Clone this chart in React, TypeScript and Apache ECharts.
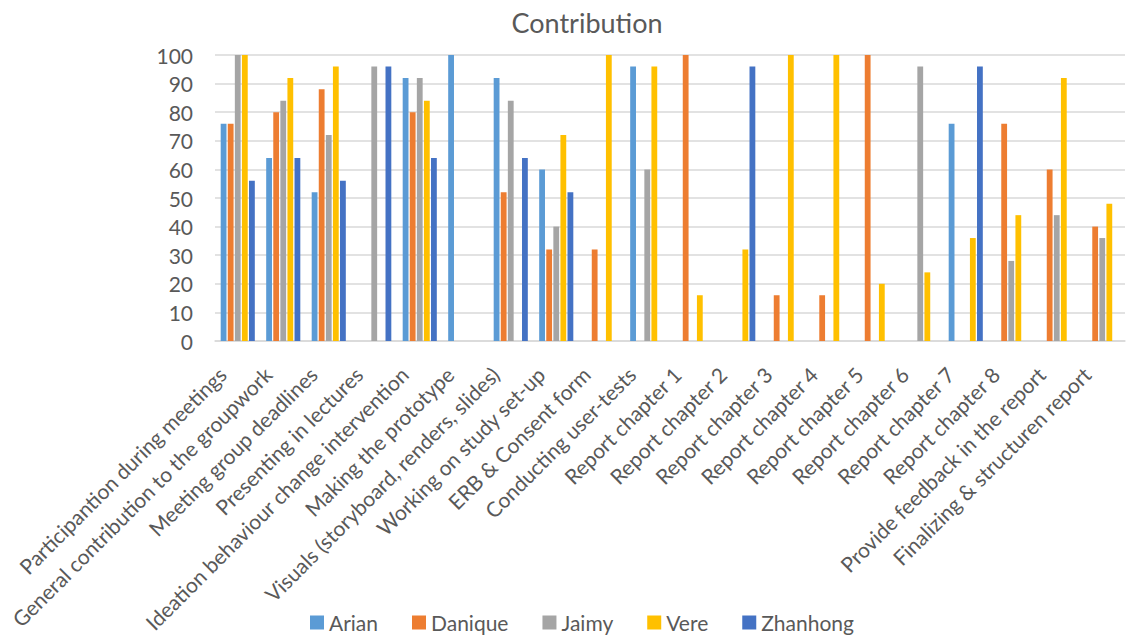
import React, { useEffect, useRef } from "react";
import * as echarts from "echarts";

const categories = [
  "Participantion during meetings",
  "General contribution to the groupwork",
  "Meeting group deadlines",
  "Presenting in lectures",
  "Ideation behaviour change intervention",
  "Making the prototype",
  "Visuals (storyboard, renders, slides)",
  "Working on study set-up",
  "ERB & Consent form",
  "Conducting user-tests",
  "Report chapter 1",
  "Report chapter 2",
  "Report chapter 3",
  "Report chapter 4",
  "Report chapter 5",
  "Report chapter 6",
  "Report chapter 7",
  "Report chapter 8",
  "Provide feedback in the report",
  "Finalizing & structuren report",
];

const arian = [76, 64, 52, null, 92, 100, 92, 60, null, 96, null, null, null, null, null, null, 76, null, null, null];
const danique = [76, 80, 88, null, 80, null, 52, 32, 32, null, 100, null, 16, 16, 100, null, null, 76, 60, 40];
const jaimy = [100, 84, 72, 96, 92, null, 84, 40, null, 60, null, null, null, null, null, 96, null, 28, 44, 36];
const vere = [100, 92, 96, null, 84, null, null, 72, 100, 96, 16, 32, 100, 100, 20, 24, 36, 44, 92, 48];
const zhanhong = [56, 64, 56, 96, 64, null, 64, 52, null, null, null, 96, null, null, null, null, 96, null, null, null];

const seriesNames = ["Arian", "Danique", "Jaimy", "Vere", "Zhanhong"];
const seriesData = [arian, danique, jaimy, vere, zhanhong];
const colors = ["#5B9BD5", "#ED7D31", "#A5A5A5", "#FFC000", "#4472C4"];

const FONT = "Lato, 'Open Sans', sans-serif";
const TEXT = "#595959";

export default function App() {
  const ref = useRef<HTMLDivElement>(null);
  useEffect(() => {
    if (!ref.current) return;
    const chart = echarts.init(ref.current, null, { renderer: "svg" });
    chart.setOption({
      animation: false,
      backgroundColor: "#ffffff",
      color: colors,
      title: {
        text: "Contribution",
        left: 582,
        textAlign: "center",
        top: 4,
        textStyle: { fontFamily: FONT, fontSize: 27, fontWeight: "normal", color: TEXT },
      },
      legend: {
        data: seriesNames,
        left: 305,
        top: 607,
        itemWidth: 14,
        itemHeight: 14,
        itemGap: 34,
        icon: "rect",
        textStyle: { fontFamily: FONT, fontSize: 21, color: TEXT },
      },
      grid: { left: 215, right: 2, top: 55, bottom: 303, containLabel: false },
      xAxis: {
        type: "category",
        data: categories,
        axisLine: { show: true, lineStyle: { color: "#D9D9D9", width: 1.5 } },
        axisTick: { show: false },
        axisLabel: {
          interval: 0,
          rotate: 45,
          margin: 14,
          padding: [0, 22, 0, 0],
          fontFamily: FONT,
          fontSize: 21,
          color: TEXT,
        },
      },
      yAxis: {
        type: "value",
        min: 0,
        max: 100,
        interval: 10,
        axisLine: { show: false },
        axisTick: { show: false },
        splitLine: { lineStyle: { color: "#D9D9D9", width: 1.5 } },
        axisLabel: { margin: 22, fontFamily: FONT, fontSize: 21, color: TEXT },
      },
      series: seriesNames.map((name, i) => ({
        name,
        type: "bar",
        data: seriesData[i],
        barGap: "22%",
        barCategoryGap: "25%",
        itemStyle: { color: colors[i] },
      })),
    });
    return () => chart.dispose();
  }, []);
  return (
    <div
      ref={ref}
      style={{ position: "absolute", left: 0, top: 0, width: 1127, height: 644 }}
    />
  );
}
